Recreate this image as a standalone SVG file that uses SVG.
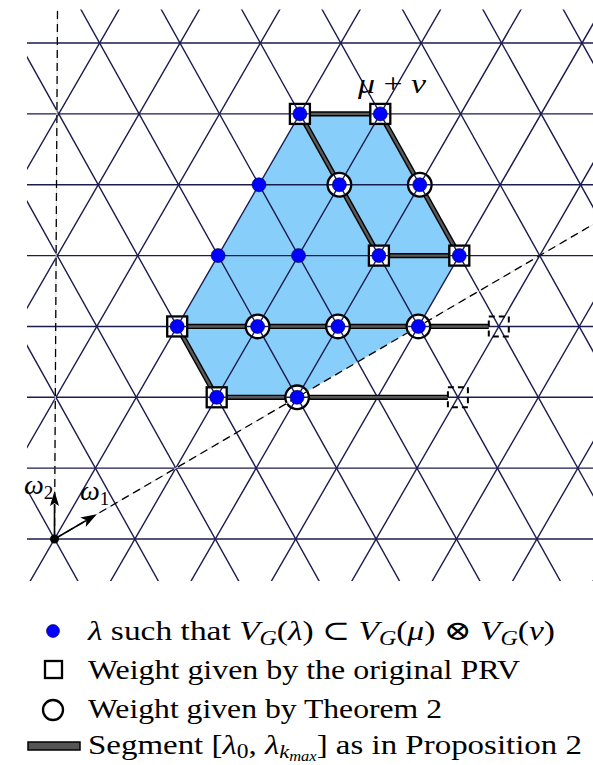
<svg xmlns="http://www.w3.org/2000/svg" xmlns:xlink="http://www.w3.org/1999/xlink" width="593" height="765" viewBox="0 0 593 765">
<defs>
<clipPath id="clip"><rect x="27" y="9.5" width="580" height="571.5"/></clipPath>
<clipPath id="mk">
<rect x="289.9" y="103.9" width="20" height="20"/>
<rect x="370.3" y="103.9" width="20" height="20"/>
<circle cx="339.4" cy="184.75" r="11.8"/>
<circle cx="419.8" cy="184.75" r="11.8"/>
<rect x="368.9" y="245.6" width="20" height="20"/>
<rect x="449.3" y="245.6" width="20" height="20"/>
<rect x="167.2" y="316.45" width="20" height="20"/>
<circle cx="257.6" cy="326.45" r="11.8"/>
<circle cx="338" cy="326.45" r="11.8"/>
<circle cx="418.4" cy="326.45" r="11.8"/>
<rect x="206.7" y="387.3" width="20" height="20"/>
<circle cx="297.1" cy="397.3" r="11.8"/>
</clipPath>
<style>
.lat{stroke:#1c1c50;stroke-width:1.4;fill:none}
.sego{stroke:#000;stroke-width:5.2;fill:none}
.segi{stroke:#595959;stroke-width:2.4;fill:none}
.sq{fill:#fff;stroke:#000;stroke-width:2.3}
.ci{fill:#fff;stroke:#000;stroke-width:2.3}
.dot{fill:#0000ff;stroke:#000040;stroke-width:0.6}
.dsq{fill:none;stroke:#000;stroke-width:2;stroke-dasharray:6 4}
.dash{stroke:#000;stroke-width:1.3;stroke-dasharray:8 5;fill:none}
.under{stroke:#dcdcdc;stroke-width:1;fill:none}
.txt{font-family:"Liberation Serif","DejaVu Serif",serif;font-size:28px;fill:#000}
.it{font-style:italic}
</style>
</defs>
<rect width="593" height="765" fill="#fff"/>
<g id="region">
<path d="M299.9,113.9 L380.3,113.9 L459.3,255.6 L418.4,326.45 L297.1,397.3 L216.7,397.3 L177.2,326.45 Z" fill="#87cefa"/>
</g>
<g id="lattice" class="lat" clip-path="url(#clip)">
<path d="M27,539H593M27,468.15H593M27,397.3H593M27,326.45H593M27,255.6H593M27,184.75H593M27,113.9H593M27,43.05H593"/>
<path d="M-221.91,600L124.45,0M-141.51,600L204.85,0M-61.11,600L285.25,0M19.29,600L365.65,0M99.69,600L446.05,0M180.09,600L526.45,0M260.49,600L606.85,0M340.89,600L687.25,0M421.29,600L767.65,0M501.69,600L848.05,0M582.09,600L928.45,0"/>
<path d="M-246,0L88.51,600M-165.6,0L168.91,600M-85.2,0L249.31,600M-4.8,0L329.71,600M75.6,0L410.11,600M156,0L490.51,600M236.4,0L570.91,600M316.8,0L651.31,600M397.2,0L731.71,600M477.6,0L812.11,600M558,0L892.51,600M638.4,0L972.91,600"/>
</g>
<g id="connectors">
<g class="sego">
<path d="M299.9,113.9 H380.3"/>
<path d="M299.9,113.9 L378.9,255.6"/>
<path d="M380.3,113.9 L459.3,255.6"/>
<path d="M378.9,255.6 H459.3"/>
<path d="M177.2,326.45 H488.8"/>
<path d="M177.2,326.45 L216.7,397.3"/>
<path d="M216.7,397.3 H447.9"/>
</g>
<g class="segi">
<path d="M299.9,113.9 H380.3"/>
<path d="M299.9,113.9 L378.9,255.6"/>
<path d="M380.3,113.9 L459.3,255.6"/>
<path d="M378.9,255.6 H459.3"/>
<path d="M177.2,326.45 H488.8"/>
<path d="M177.2,326.45 L216.7,397.3"/>
<path d="M216.7,397.3 H447.9"/>
</g>
</g>
<g id="markers">
<rect class="sq" x="289.9" y="103.9" width="20" height="20"/>
<rect class="sq" x="370.3" y="103.9" width="20" height="20"/>
<circle class="ci" cx="339.4" cy="184.75" r="11.8"/>
<circle class="ci" cx="419.8" cy="184.75" r="11.8"/>
<rect class="sq" x="368.9" y="245.6" width="20" height="20"/>
<rect class="sq" x="449.3" y="245.6" width="20" height="20"/>
<rect class="sq" x="167.2" y="316.45" width="20" height="20"/>
<circle class="ci" cx="257.6" cy="326.45" r="11.8"/>
<circle class="ci" cx="338" cy="326.45" r="11.8"/>
<circle class="ci" cx="418.4" cy="326.45" r="11.8"/>
<rect class="sq" x="206.7" y="387.3" width="20" height="20"/>
<circle class="ci" cx="297.1" cy="397.3" r="11.8"/>
</g>
<g id="lattice-in-markers" clip-path="url(#mk)">
<use href="#lattice" xlink:href="#lattice"/>
</g>
<g id="axes">
<path class="under" d="M54.5,539 L57.5,9.5"/>
<path class="dash" d="M54.5,539 L57.5,9.5"/>
<path class="under" d="M54.5,539 L593,224.46"/>
<path class="dash" d="M54.5,539 L593,224.46"/>
</g>
<g id="dashed-squares">
<rect id="n14" class="dsq" x="488.8" y="316.45" width="20" height="20"/>
<rect id="n17" class="dsq" x="447.9" y="387.3" width="20" height="20"/>
</g>
<g id="dots">
<circle id="n1" class="dot" cx="299.9" cy="113.9" r="7"/>
<circle id="n2" class="dot" cx="380.3" cy="113.9" r="7"/>
<circle id="n3" class="dot" cx="259" cy="184.75" r="7"/>
<circle id="n4" class="dot" cx="339.4" cy="184.75" r="7"/>
<circle id="n5" class="dot" cx="419.8" cy="184.75" r="7"/>
<circle id="n6" class="dot" cx="218.1" cy="255.6" r="7"/>
<circle id="n7" class="dot" cx="298.5" cy="255.6" r="7"/>
<circle id="n8" class="dot" cx="378.9" cy="255.6" r="7"/>
<circle id="n9" class="dot" cx="459.3" cy="255.6" r="7"/>
<circle id="n10" class="dot" cx="177.2" cy="326.45" r="7"/>
<circle id="n11" class="dot" cx="257.6" cy="326.45" r="7"/>
<circle id="n12" class="dot" cx="338" cy="326.45" r="7"/>
<circle id="n13" class="dot" cx="418.4" cy="326.45" r="7"/>
<circle id="n15" class="dot" cx="216.7" cy="397.3" r="7"/>
<circle id="n16" class="dot" cx="297.1" cy="397.3" r="7"/>
</g>
<g id="origin">
<path d="M54.5,539 V504" stroke="#000" stroke-width="1.6"/>
<polygon points="54.5,491 59,506 54.5,503 50,506" fill="#000"/>
<path d="M54.5,539 L86.44,520.32" stroke="#000" stroke-width="1.6"/>
<polygon points="96.8,514.26 85.77,527.09 86.44,520.32 80.21,517.59" fill="#000"/>
<circle cx="54.5" cy="539" r="4.5" fill="#000"/>
</g>
<g id="labels" class="txt">
<text x="358" y="93" textLength="68" lengthAdjust="spacingAndGlyphs"><tspan class="it">μ</tspan> + <tspan class="it">ν</tspan></text>
<text x="24" y="494"><tspan class="it">ω</tspan><tspan font-size="19" dy="5">2</tspan></text>
<text x="80" y="500"><tspan class="it">ω</tspan><tspan font-size="19" dy="5">1</tspan></text>
</g>
<g id="legend">
<circle class="dot" cx="53" cy="631" r="6.5"/>
<rect class="sq" x="45" y="661" width="17" height="17" stroke-width="2.2"/>
<circle class="ci" cx="53" cy="710" r="10" stroke-width="2.2"/>
<rect x="28" y="742" width="52" height="8" fill="#555" stroke="#000" stroke-width="1.5"/>
<text class="txt" x="88" y="640" textLength="467" lengthAdjust="spacingAndGlyphs"><tspan class="it">λ</tspan> such that <tspan class="it">V</tspan><tspan class="it" font-size="20" dy="5">G</tspan><tspan dy="-5">(</tspan><tspan class="it">λ</tspan>) ⊂ <tspan class="it">V</tspan><tspan class="it" font-size="20" dy="5">G</tspan><tspan dy="-5">(</tspan><tspan class="it">μ</tspan>) ⊗ <tspan class="it">V</tspan><tspan class="it" font-size="20" dy="5">G</tspan><tspan dy="-5">(</tspan><tspan class="it">ν</tspan>)</text>
<text class="txt" x="88" y="679" textLength="432" lengthAdjust="spacingAndGlyphs">Weight given by the original PRV</text>
<text class="txt" x="88" y="718" textLength="354" lengthAdjust="spacingAndGlyphs">Weight given by Theorem 2</text>
<text class="txt" x="88" y="754" textLength="494" lengthAdjust="spacingAndGlyphs">Segment [<tspan class="it">λ</tspan><tspan font-size="20" dy="4">0</tspan><tspan dy="-4">, </tspan><tspan class="it">λ</tspan><tspan class="it" font-size="19" dy="4">k</tspan><tspan class="it" font-size="14" dy="3">max</tspan><tspan dy="-7">] as in Proposition 2</tspan></text>
</g>
</svg>
